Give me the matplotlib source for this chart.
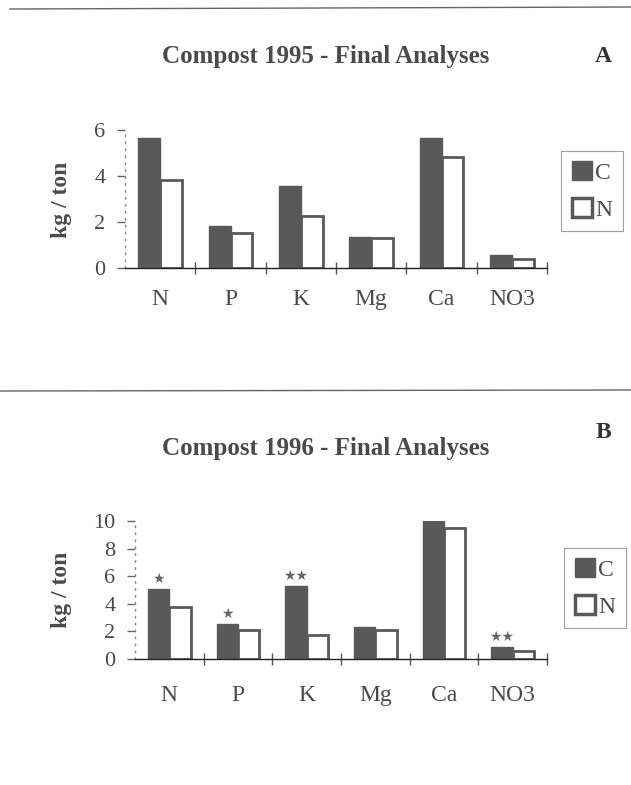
import matplotlib
matplotlib.use("Agg")
import matplotlib.pyplot as plt
from matplotlib.patches import Patch
from matplotlib.lines import Line2D
import numpy as np

plt.rcParams['font.family'] = ['Liberation Serif', 'DejaVu Serif']

categories = ["N", "P", "K", "Mg", "Ca", "NO3"]
a_compost = [5.65, 1.83, 3.57, 1.36, 5.65, 0.57]
a_n = [3.83, 1.54, 2.26, 1.29, 4.81, 0.39]
b_compost = [5.07, 2.55, 5.28, 2.35, 9.98, 0.87]
b_n = [3.75, 2.10, 1.71, 2.10, 9.48, 0.55]
b_signif = ["*", "*", "**", "", "", "**"]
series_labels = ["C", "N"]

W, H = 631, 785
fig = plt.figure(figsize=(W / 100, H / 100), dpi=100)

DARK = "#595959"
TXT = "#4a4a4a"

def px_axes(l, r, top, bot):
    return fig.add_axes([l / W, (H - bot) / H, (r - l) / W, (bot - top) / H])

def draw_panel(ax, c_vals, n_vals, ymax, yticks, signif=None, xpad=16):
    x = np.arange(len(categories))
    bw = 0.31
    ax.bar(x - bw / 2, c_vals, bw, color=DARK, edgecolor=DARK, linewidth=1.0)
    ax.bar(x + bw / 2, n_vals, bw, color="white", edgecolor=DARK, linewidth=2.0)
    ax.set_xlim(-0.5, len(categories) - 0.5)
    ax.set_ylim(0, ymax)
    for s in ["top", "right"]:
        ax.spines[s].set_visible(False)
    ax.spines["left"].set_linestyle((0, (1, 4)))
    ax.spines["left"].set_color("#888888")
    ax.spines["left"].set_linewidth(1.0)
    ax.spines["bottom"].set_color("#222222")
    ax.spines["bottom"].set_linewidth(1.0)
    ax.set_yticks(yticks)
    ax.set_yticklabels([str(t) for t in yticks], fontsize=16, color=TXT)
    ax.tick_params(axis="y", direction="out", length=6, width=1, color="#666666", pad=8)
    ax.set_xticks(np.arange(len(categories)) + 0.5)
    ax.set_xticklabels([])
    ax.tick_params(axis="x", which="major", direction="inout", length=8, width=1, color="#555555")
    ax.set_xticks(x, minor=True)
    ax.set_xticklabels(categories, minor=True, fontsize=17, color=TXT)
    ax.tick_params(axis="x", which="minor", length=0, pad=xpad)
    if signif:
        for xi, v, s in zip(x, c_vals, signif):
            if s:
                ax.annotate("\u2605" * len(s), (xi - bw / 2, v), xytext=(0, 2),
                            textcoords="offset points", ha="center", va="bottom",
                            fontsize=10, color="#666666", family="DejaVu Sans")

axA = px_axes(125, 547, 130, 268)
draw_panel(axA, a_compost, a_n, 6, [0, 2, 4, 6], xpad=15)
axB = px_axes(135, 547, 521, 659)
draw_panel(axB, b_compost, b_n, 10, [0, 2, 4, 6, 8, 10], b_signif, xpad=19)

fig.text(326 / W, 1 - 57 / H, "Compost 1995 - Final Analyses", ha="center", va="center",
         fontsize=18, fontweight="bold", color=TXT)
fig.text(603 / W, 1 - 57 / H, "A", ha="center", va="center", fontsize=17,
         fontweight="bold", color="#333333")
fig.text(326 / W, 1 - 449 / H, "Compost 1996 - Final Analyses", ha="center", va="center",
         fontsize=18, fontweight="bold", color=TXT)
fig.text(603 / W, 1 - 432 / H, "B", ha="center", va="center", fontsize=17,
         fontweight="bold", color="#333333")

for yy in (200, 590):
    fig.text(62 / W, 1 - yy / H, "kg / ton", rotation=90, ha="center", va="center",
             fontsize=17, fontweight="bold", color=TXT)

fig.add_artist(Line2D([10 / W, 1.0], [1 - 9 / H, 1 - 7 / H], color="#666666", lw=1))
fig.add_artist(Line2D([0.0, 1.0], [1 - 391 / H, 1 - 390 / H], color="#666666", lw=1))

handles = [Patch(facecolor=DARK, edgecolor=DARK, linewidth=1.0),
           Patch(facecolor="white", edgecolor=DARK, linewidth=2.5)]

def draw_legend(cx, cy):
    leg = fig.legend(handles, series_labels, loc="center",
                     bbox_to_anchor=(cx / W, 1 - cy / H), frameon=True, fancybox=False,
                     fontsize=17, handlelength=0.85, handleheight=0.85, handletextpad=0.15,
                     labelspacing=0.6, borderpad=0.45, edgecolor="#888888",
                     labelcolor=TXT)
    leg.get_frame().set_linewidth(0.8)

draw_legend(592, 191)
draw_legend(595, 588)

fig.savefig("out.png", dpi=100)
